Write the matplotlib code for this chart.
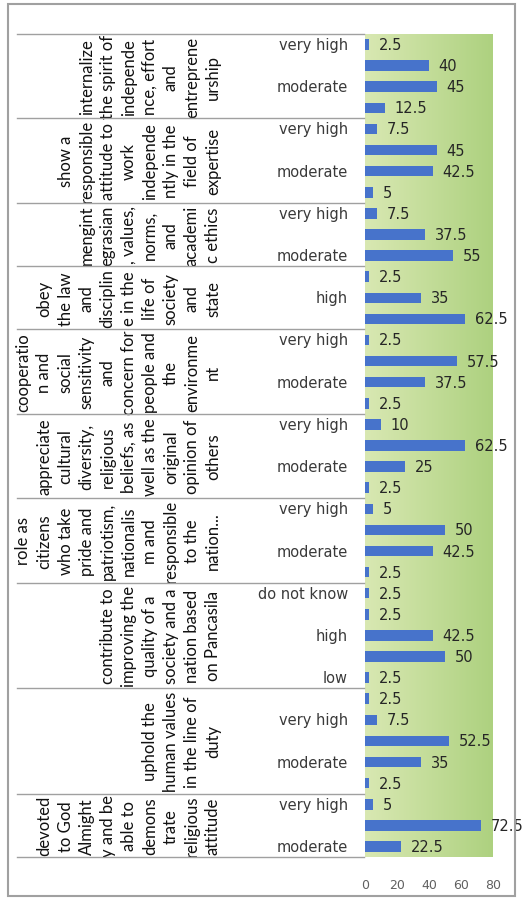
import numpy as np
import matplotlib
matplotlib.use('Agg')
import matplotlib.pyplot as plt
import matplotlib.transforms as mtransforms
from matplotlib.lines import Line2D
from matplotlib.patches import Rectangle

# groups from top to bottom (wrapped as in the scanned Excel chart)
group_names = [
    'internalize\nthe spirit of\nindepende\nnce, effort\nand\nentreprene\nurship',
    'show a\nresponsible\nattitude to\nwork\nindepende\nntly in the\nfield of\nexpertise',
    'mengint\negrasian\n, values,\nnorms,\nand\nacademi\nc ethics',
    'obey\nthe law\nand\ndisciplin\ne in the\nlife of\nsociety\nand\nstate',
    'cooperatio\nn and\nsocial\nsensitivity\nand\nconcern for\npeople and\nthe\nenvironme\nnt',
    'appreciate\ncultural\ndiversity,\nreligious\nbeliefs, as\nwell as the\noriginal\nopinion of\nothers',
    'role as\ncitizens\nwho take\npride and\npatriotism,\nnationalis\nm and\nresponsible\nto the\nnation...',
    'contribute to\nimproving the\nquality of a\nsociety and a\nnation based\non Pancasila',
    'uphold the\nhuman values\nin the line of\nduty',
    'devoted\nto God\nAlmight\ny and be\nable to\ndemons\ntrate\nreligious\nattitude',
]
lv4 = ['very high', 'high', 'moderate', 'low']
lv3 = ['very high', 'high', 'moderate']
lv5 = ['do not know', 'very high', 'high', 'moderate', 'low']
group_levels = [lv4, lv4, lv3, lv3, lv4, lv4, lv4, lv5, lv5, lv3]
group_values = [
    [2.5, 40, 45, 12.5],
    [7.5, 45, 42.5, 5],
    [7.5, 37.5, 55],
    [2.5, 35, 62.5],
    [2.5, 57.5, 37.5, 2.5],
    [10, 62.5, 25, 2.5],
    [5, 50, 42.5, 2.5],
    [2.5, 2.5, 42.5, 50, 2.5],
    [2.5, 7.5, 52.5, 35, 2.5],
    [5, 72.5, 22.5],
]
x_ticks = [0, 20, 40, 60, 80]

cats = [c for lv in group_levels for c in lv]
vals = [v for gv in group_values for v in gv]
n = len(vals)

W, H = 522, 903
fig = plt.figure(figsize=(W / 100, H / 100), dpi=100)
fig.patch.set_facecolor('white')
ax = fig.add_axes([365 / W, 1 - 858 / H, (493 - 365) / W, (858 - 35) / H])

# green gradient plot area
c0 = np.array([0.85, 0.91, 0.70])
c1 = np.array([0.68, 0.82, 0.50])
t = np.linspace(0, 1, 256)[None, :, None]
grad = c0 + (c1 - c0) * t
ax.imshow(grad, extent=[0, 1, 0, 1], transform=ax.transAxes, aspect='auto', zorder=0)

y = np.arange(n)
ax.barh(y, vals, height=0.5, color='#4773cb', zorder=2)
for yi, v in zip(y, vals):
    ax.annotate(f'{v:g}', (v, yi), xytext=(7, 0), textcoords='offset points',
                va='center', ha='left', fontsize=10.5, color='#262626', zorder=3)

ax.set_xlim(0, 80)
ax.set_ylim(n - 0.5, -0.5)
ax.set_xticks(x_ticks)
ax.set_yticks([])
ax.tick_params(axis='x', length=0, pad=15, labelsize=9, labelcolor='#606060')
for s in ax.spines.values():
    s.set_visible(False)

trans = mtransforms.blended_transform_factory(fig.transFigure, ax.transData)

# inner category labels (Excel shows every second one)
for i in range(0, n, 2):
    ax.text(348 / W, i, cats[i], transform=trans, ha='right', va='center',
            fontsize=10.5, color='#3a3a3a')

# group labels and separators
start = 0
bounds = [-0.5]
for name, lv in zip(group_names, group_levels):
    mid = start + (len(lv) - 1) / 2
    ax.text(221 / W, mid, name, transform=trans, rotation=90, rotation_mode='anchor',
            ha='center', va='bottom', multialignment='center', linespacing=1.39,
            fontsize=12, family='Lato', color='#111111')
    start += len(lv)
    bounds.append(start - 0.5)

for b in bounds:
    fig.add_artist(Line2D([17 / W, 364 / W], [b, b], transform=trans, color='#a0a0a0', lw=1))

fig.add_artist(Rectangle((8 / W, 1 - 897 / H), (515 - 8) / W, (897 - 5) / H,
                         transform=fig.transFigure, fill=False, edgecolor='#a0a0a0', lw=1.5))

fig.savefig('out.png', dpi=100)
